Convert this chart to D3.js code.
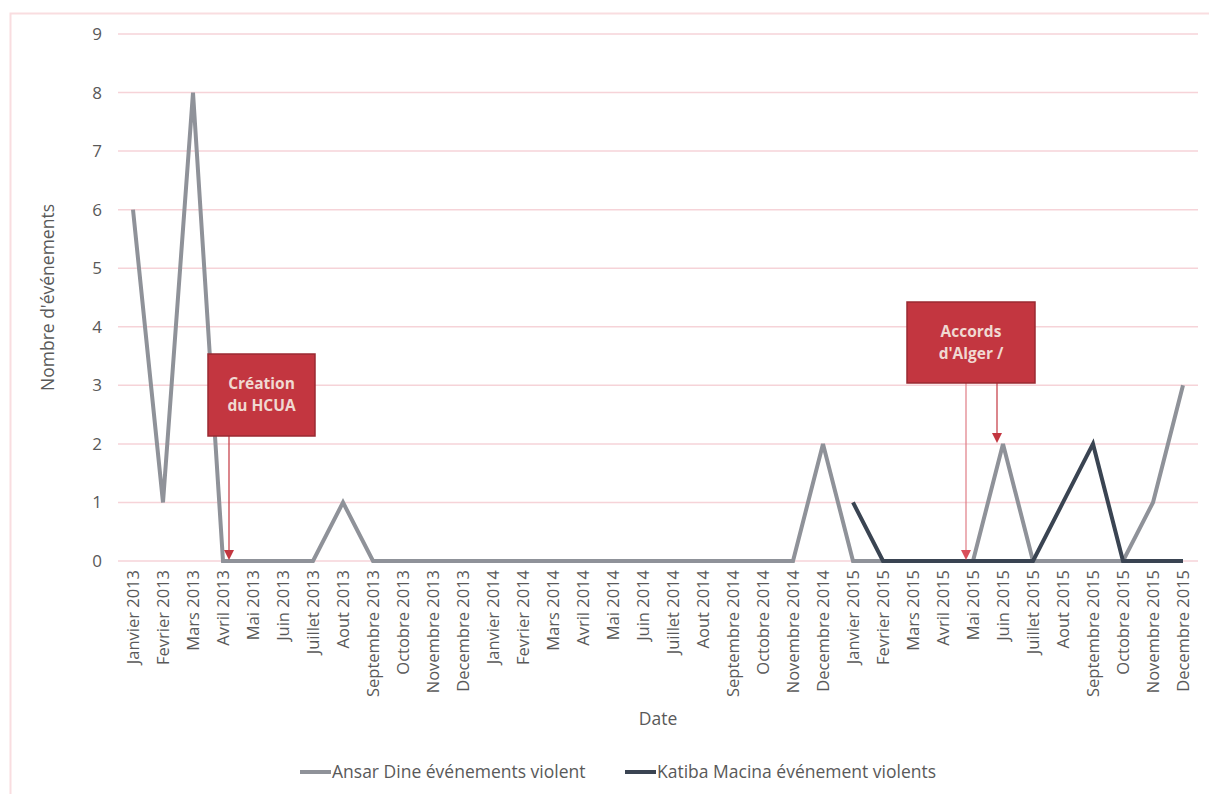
<!DOCTYPE html>
<html>
<head>
<meta charset="utf-8">
<script src="https://cdn.jsdelivr.net/npm/d3@7"></script>
<style>
  body { margin: 0; background: #fff; }
  svg text { font-family: "Liberation Sans Narrow", "Open Sans", sans-serif; }
</style>
</head>
<body>
<div id="chart"></div>
<script>
const WIDTH = 1209, HEIGHT = 794;

const months = [
  "Janvier 2013","Fevrier 2013","Mars 2013","Avril 2013","Mai 2013","Juin 2013",
  "Juillet 2013","Aout 2013","Septembre 2013","Octobre 2013","Novembre 2013","Decembre 2013",
  "Janvier 2014","Fevrier 2014","Mars 2014","Avril 2014","Mai 2014","Juin 2014",
  "Juillet 2014","Aout 2014","Septembre 2014","Octobre 2014","Novembre 2014","Decembre 2014",
  "Janvier 2015","Fevrier 2015","Mars 2015","Avril 2015","Mai 2015","Juin 2015",
  "Juillet 2015","Aout 2015","Septembre 2015","Octobre 2015","Novembre 2015","Decembre 2015"
];

const ansarDine = [6,1,8,0,0,0,0,1,0,0,0,0, 0,0,0,0,0,0,0,0,0,0,0,2, 0,0,0,0,0,2,0,0,0,0,1,3];
// Katiba Macina only from Janvier 2015
const katibaMonths = months.slice(24);
const katibaMacina = [1,0,0,0,0,0,0,1,2,0,0,0];

const yTicks = [0,1,2,3,4,5,6,7,8,9];

const annotations = [
  { lines: ["Création", "du HCUA"], box: [208, 354, 107, 82], arrows: [{ month: "Avril 2013", dx: 6, value: 0 }] },
  { lines: ["Accords", "d'Alger /"], box: [907, 302, 128, 81], arrows: [
      { month: "Mai 2015", dx: -7, value: 0, pale: true },
      { month: "Juin 2015", dx: -6, value: 2 }
  ] }
];

const GRID = "#f6d3d8", GRAY = "#8f9299", DARK = "#3a4452", TEXT = "#595959";
const RED = "#c33640", RED_DARK = "#9a2a32";

const svg = d3.select("#chart").append("svg")
  .attr("width", WIDTH).attr("height", HEIGHT);

// outer frame
svg.append("path")
  .attr("d", `M10.5,${HEIGHT} V13.5 H${WIDTH}`)
  .attr("fill", "none").attr("stroke", "#f9dde0").attr("stroke-width", 2);

const plotLeft = 118, plotRight = 1198, plotTop = 34, plotBottom = 561;

const x = d3.scaleBand().domain(months).range([plotLeft, plotRight]);
const cx = (m) => x(m) + x.bandwidth() / 2;
const y = d3.scaleLinear().domain([0, 9]).range([plotBottom, plotTop]);

// gridlines
svg.append("g").selectAll("line").data(yTicks).join("line")
  .attr("x1", plotLeft).attr("x2", plotRight)
  .attr("y1", (d) => y(d)).attr("y2", (d) => y(d))
  .attr("stroke", GRID).attr("stroke-width", 1.5);

// y axis labels
const yAxis = svg.append("g").attr("transform", `translate(${plotLeft},0)`)
  .call(d3.axisLeft(y).tickValues(yTicks).tickSize(0).tickPadding(16));
yAxis.select(".domain").remove();
yAxis.selectAll("text")
  .style("font-family", "'Open Sans', sans-serif")
  .style("font-size", "17px").attr("fill", TEXT);

// x axis labels
const xAxis = svg.append("g").attr("transform", `translate(0,${plotBottom})`)
  .call(d3.axisBottom(x).tickSize(0).tickPadding(0));
xAxis.select(".domain").remove();
xAxis.selectAll("text")
  .attr("transform", "rotate(-90)")
  .attr("x", -9).attr("y", 0).attr("dy", "0.35em")
  .attr("text-anchor", "end")
  .style("font-size", "16.5px").attr("fill", TEXT);

// axis titles
svg.append("text")
  .attr("transform", `translate(54,${(plotTop + plotBottom) / 2}) rotate(-90)`)
  .attr("text-anchor", "middle")
  .style("font-family", "'Open Sans', sans-serif")
  .style("font-size", "17.5px").attr("fill", TEXT)
  .text("Nombre d'événements");

svg.append("text")
  .attr("x", 658).attr("y", 725)
  .attr("text-anchor", "middle")
  .style("font-family", "'Open Sans', sans-serif")
  .style("font-size", "17.5px").attr("fill", TEXT)
  .text("Date");

// lines
const line = d3.line().x((d) => cx(d.m)).y((d) => y(d.v));

svg.append("path")
  .datum(months.map((m, i) => ({ m, v: ansarDine[i] })))
  .attr("fill", "none").attr("stroke", GRAY).attr("stroke-width", 4)
  .attr("d", line);

svg.append("path")
  .datum(katibaMonths.map((m, i) => ({ m, v: katibaMacina[i] })))
  .attr("fill", "none").attr("stroke", DARK).attr("stroke-width", 4)
  .attr("d", line);

// annotations
annotations.forEach((a) => {
  const [bx, by, bw, bh] = a.box;
  a.arrows.forEach((ar) => {
    const ax = cx(ar.month) + ar.dx;
    const tipY = y(ar.value) - 1;
    svg.append("line")
      .attr("x1", ax).attr("x2", ax)
      .attr("y1", by + bh).attr("y2", tipY - 8)
      .attr("stroke", ar.pale ? "#e07c85" : RED).attr("stroke-width", 1.2);
    svg.append("path")
      .attr("d", `M${ax - 5},${tipY - 10} L${ax + 5},${tipY - 10} L${ax},${tipY} Z`)
      .attr("fill", ar.pale ? "#d94f5a" : RED);
  });
  svg.append("rect")
    .attr("x", bx).attr("y", by).attr("width", bw).attr("height", bh)
    .attr("fill", RED).attr("stroke", RED_DARK).attr("stroke-width", 1.5);
  svg.append("text")
    .attr("x", bx + bw / 2).attr("y", by + bh / 2 - 11)
    .attr("text-anchor", "middle")
    .style("font-family", "'Open Sans', sans-serif")
    .style("font-weight", "bold").style("font-size", "15.5px")
    .attr("fill", "#f0d9d2")
    .selectAll("tspan").data(a.lines).join("tspan")
    .attr("x", bx + bw / 2).attr("dy", (d, i) => i === 0 ? "0.35em" : 22)
    .text((d) => d);
});

// legend
const legend = [
  { label: "Ansar Dine événements violent", color: GRAY, x: 300 },
  { label: "Katiba Macina événement violents", color: DARK, x: 625 }
];
const lg = svg.append("g").selectAll("g").data(legend).join("g")
  .attr("transform", (d) => `translate(${d.x},772)`);
lg.append("line").attr("x1", 0).attr("x2", 31)
  .attr("stroke", (d) => d.color).attr("stroke-width", 4);
lg.append("text").attr("x", 32).attr("dy", "0.35em")
  .style("font-size", "17.5px").attr("fill", TEXT)
  .text((d) => d.label);
</script>
</body>
</html>
